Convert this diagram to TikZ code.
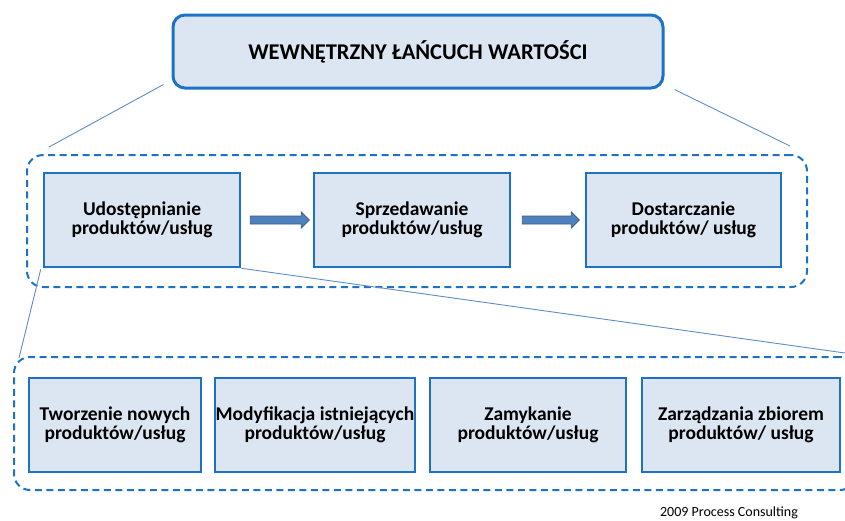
\documentclass[tikz,border=0pt]{standalone}
\usepackage{fontspec}
\setmainfont{Carlito}
\usetikzlibrary{calc}
\definecolor{edgeblue}{RGB}{28,114,196}
\definecolor{boxfill}{RGB}{220,230,242}
\definecolor{linkblue}{RGB}{95,140,198}
\definecolor{arrfill}{RGB}{79,129,189}
\definecolor{arredge}{RGB}{56,93,138}
\tikzset{
  titlebox/.style={draw=edgeblue, line width=3pt, fill=boxfill, rounded corners=12pt,
    minimum width=490pt, minimum height=73pt, inner sep=0pt,
    font=\fontsize{22.5}{23}\selectfont\bfseries},
  stepbox/.style={draw=edgeblue, line width=2.5pt, fill=boxfill, inner sep=0pt,
    minimum height=94pt, align=center,
    font=\fontsize{19.5}{19.5}\selectfont\bfseries},
  group/.style={draw=edgeblue, line width=2pt, dash pattern=on 7pt off 4.5pt,
    rounded corners=16pt, inner sep=0pt},
  link/.style={draw=linkblue, line width=0.9pt},
  blockarrow/.style={fill=arrfill, draw=arredge, line width=0.8pt, line join=miter},
}
\begin{document}
\begin{tikzpicture}[x=1pt, y=-1pt]
\useasboundingbox (0,0) rectangle (845,520);
\clip (0,0) rectangle (845,520);

% dashed group frames
\node[group, minimum width=780pt, minimum height=132pt] (g1) at (417,221) {};
\node[group, minimum width=842pt, minimum height=133pt] (g2) at (435,423.5) {};

% top-level box
\node[titlebox] (top) at (418,51.5) {WEWNĘTRZNY ŁAŃCUCH WARTOŚCI};

% main chain
\node[stepbox, minimum width=196pt] (u1) at (142,220) {Udostępnianie\\produktów/usług};
\node[stepbox, minimum width=196pt] (u2) at (412,220) {Sprzedawanie\\produktów/usług};
\node[stepbox, minimum width=195pt] (u3) at (683.5,220) {Dostarczanie\\produktów/ usług};

% detail row
\node[stepbox, minimum width=172pt] (d1) at (115,425) {Tworzenie nowych\\produktów/usług};
\node[stepbox, minimum width=200pt] (d2) at (315,425) {Modyfikacja istniejących\\produktów/usług};
\node[stepbox, minimum width=196pt] (d3) at (528,425) {Zamykanie\\produktów/usług};
\node[stepbox, minimum width=198pt] (d4) at (741,425) {Zarządzania zbiorem\\produktów/ usług};

% zoom-out lines from the title box to the chain frame
\coordinate (tl) at ($(top.south west)+(-8,-5)$);
\coordinate (tr) at ($(top.south east)+(10,0)$);
\coordinate (gl) at ($(g1.north west)+(23,-7)$);
\coordinate (gr) at ($(g1.north east)+(-18,-8)$);
\draw[link] (tl) -- (gl);
\draw[link] (tr) -- (gr);

% zoom-out lines from the first step to the detail frame
\coordinate (ul) at ($(u1.south west)+(-2,1)$);
\coordinate (dl) at (19,358);
\coordinate (dr) at (845,353);
\draw[link] (ul) -- (dl);
\draw[link] (u1.south east) -- (dr);

% block arrows between the steps
\draw[blockarrow] ($(u1.east)+(9,-4)$) -- ++(51,0) -- ++(0,-4) -- ++(8,8)
  -- ++(-8,8) -- ++(0,-4) -- ++(-51,0) -- cycle;
\draw[blockarrow] ($(u2.east)+(11,-4)$) -- ++(49,0) -- ++(0,-4) -- ++(8,8)
  -- ++(-8,8) -- ++(0,-4) -- ++(-49,0) -- cycle;

% footer
\node[anchor=base, font=\fontsize{14}{16}\selectfont, inner sep=0pt] (foot) at (729,516.5) {2009 Process Consulting};
\end{tikzpicture}
\end{document}
